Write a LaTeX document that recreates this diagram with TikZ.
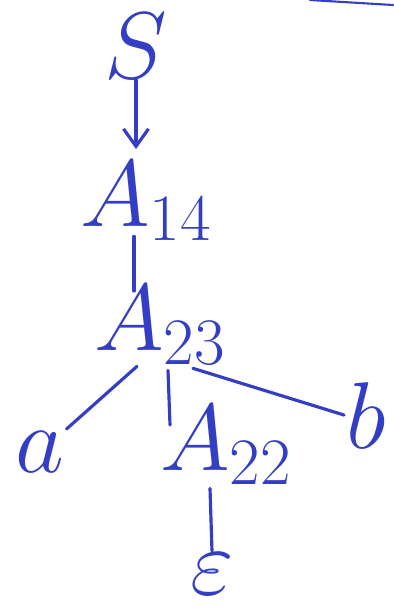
\documentclass[tikz,border=0pt]{standalone}
\usepackage{fix-cm}
\usepackage{tikz}
\usepackage{xcolor}
\definecolor{InkBlue}{RGB}{52,62,196}
\usetikzlibrary{positioning,arrows.meta,calc}

\begin{document}
\begin{tikzpicture}[
    x=0.02cm, y=-0.02cm,
    sym/.style={text=InkBlue, inner sep=1pt, anchor=base, font=\fontsize{54}{56}\selectfont},
    edge/.style={draw=InkBlue, line width=1.8pt, line cap=round},
    arrow/.style={edge, -{Straight Barb[length=3.5mm, width=5mm]}}
]
    \useasboundingbox (0,0) rectangle (393,613);
    \node[sym] (s) at (136,78) {$S$};
    \node[sym] (a14) at (146,226) {$A_{14}$};
    \node[sym] (a23) at (160,350) {$A_{23}$};
    \node[sym] (ta) at (40,472) {$a$};
    \node[sym] (tb) at (366,448) {$b$};
    \node[sym] (a22) at (226,470) {$A_{22}$};
    \node[sym] (eps) at (212,594) {$\varepsilon$};
    \draw[arrow, shorten >=2mm] (s.south) -- (s.south |- a14.north);
    \draw[edge] ($(a14.south)+(-12,-6)$) -- ($(a23.north)+(-26,8)$);
    \draw[edge] ($(a23.south)+(-23,0)$) -- (ta.north east);
    \draw[edge] ($(a23.south)+(8,4)$) -- ($(a22.north)+(-56,22)$);
    \draw[edge] ($(a23.south)+(33,2)$) -- (tb.west);
    \draw[edge] ($(a22.south)+(-16,2)$) -- (eps.north);
    % stray stroke at the top edge
    \draw[edge, line width=1.2pt] (310,0) -- (393,5);
\end{tikzpicture}
\end{document}
